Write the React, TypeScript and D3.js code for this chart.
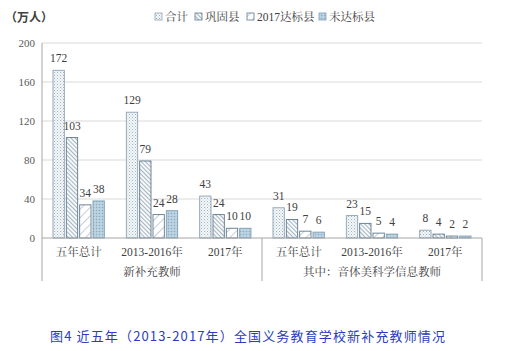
import React from 'react';
import * as d3 from 'd3';

const categories = ['五年总计', '2013-2016年', '2017年', '五年总计', '2013-2016年', '2017年'];
const groupLabels = ['新补充教师', '其中：音体美科学信息教师'];
const seriesNames = ['合计', '巩固县', '2017达标县', '未达标县'];
const totalVals = [172, 129, 43, 31, 23, 8];
const consolidatedVals = [103, 79, 24, 19, 15, 4];
const met2017Vals = [34, 24, 10, 7, 5, 2];
const unmetVals = [38, 28, 10, 6, 4, 2];
const yTicks = [0, 40, 80, 120, 160, 200];
const caption = '图4 近五年（2013-2017年）全国义务教育学校新补充教师情况';

const seriesValues = [totalVals, consolidatedVals, met2017Vals, unmetVals];
const patternIds = ['p-total', 'p-cons', 'p-met', 'p-unmet'];
const strokes = ['#8da3b4', '#60798d', '#60798d', '#7f9fb6'];

const W = 505, H = 351;
const left = 42, right = 482, top = 43, bottom = 238;
const serif = '"Liberation Serif", "Noto Serif CJK SC", "Noto Sans CJK SC", serif';
const sans = '"Noto Sans CJK SC", "Liberation Serif", sans-serif';

export default function App() {
  const x = d3.scaleBand<number>().domain(d3.range(categories.length)).range([left, right]).padding(0);
  const bw = x.bandwidth();
  const xi = d3.scaleBand<number>().domain(d3.range(seriesNames.length)).range([bw * 0.15, bw * 0.85]).paddingInner(0.15);
  const y = d3.scaleLinear().domain([0, 200]).range([bottom, top]);

  const legendX = [155, 195, 247, 319];

  return (
    <svg width={W} height={H} style={{ position: 'absolute', left: 0, top: 0, background: '#fff' }}>
      <defs>
        <pattern id="p-total" width="3" height="3" patternUnits="userSpaceOnUse">
          <rect width="3" height="3" fill="#f4f7f9" />
          <rect x="0" y="0" width="1" height="1" fill="#9fb2c1" />
          <rect x="1.5" y="1.5" width="1" height="1" fill="#b8c7d2" />
        </pattern>
        <pattern id="p-cons" width="3" height="3" patternUnits="userSpaceOnUse" patternTransform="rotate(-45)">
          <rect width="3" height="3" fill="#f6f8fa" />
          <line x1="0" y1="0" x2="0" y2="3" stroke="#6f889b" strokeWidth="1.2" />
        </pattern>
        <pattern id="p-met" width="6" height="6" patternUnits="userSpaceOnUse" patternTransform="rotate(45)">
          <rect width="6" height="6" fill="#ffffff" />
          <line x1="0" y1="0" x2="0" y2="6" stroke="#7d93a4" strokeWidth="0.9" />
        </pattern>
        <pattern id="p-unmet" width="3" height="3" patternUnits="userSpaceOnUse">
          <rect width="3" height="3" fill="#b3cddd" />
          <rect x="0" y="0" width="1" height="1" fill="#86a7bd" />
          <rect x="1.5" y="1.5" width="1" height="1" fill="#d6e5ee" />
        </pattern>
      </defs>

      {/* y label */}
      <text x={5} y={22} fontFamily={sans} fontSize={12} fontWeight="bold" fill="#404040">（万人）</text>

      {/* legend */}
      {seriesNames.map((s, i) => (
        <g key={s}>
          <rect x={legendX[i]} y={13} width={7} height={7} fill={`url(#${patternIds[i]})`} stroke={strokes[i]} strokeWidth={0.8} />
          <text x={legendX[i] + 10} y={21} fontFamily={serif} fontSize={11.5} fill="#404040">{s}</text>
        </g>
      ))}

      {/* gridlines */}
      {yTicks.filter(t => t > 0).map(t => (
        <line key={t} x1={left} x2={right} y1={y(t)} y2={y(t)} stroke="#d9d9d9" strokeWidth={1} />
      ))}
      {/* y tick labels */}
      {yTicks.map(t => (
        <text key={t} x={35} y={y(t) + 4} textAnchor="end" fontFamily={serif} fontSize={11} fill="#595959">{t}</text>
      ))}

      {/* bars */}
      {seriesValues.map((vals, si) => (
        <g key={si}>
          {vals.map((v, ci) => {
            const bx = (x(ci) as number) + (xi(si) as number);
            return (
              <g key={ci}>
                <rect x={bx} y={y(v)} width={xi.bandwidth()} height={bottom - y(v)}
                  fill={`url(#${patternIds[si]})`} stroke={strokes[si]} strokeWidth={0.9} />
                <text x={bx + xi.bandwidth() / 2} y={y(v) - 8} textAnchor="middle" fontFamily={serif} fontSize={11.5} fill="#404040">{v}</text>
              </g>
            );
          })}
        </g>
      ))}

      {/* axes */}
      <line x1={left} x2={right} y1={bottom} y2={bottom} stroke="#a6a6a6" strokeWidth={1} />
      <line x1={left} x2={left} y1={top} y2={281} stroke="#a6a6a6" strokeWidth={1} />
      <line x1={(x(3) as number)} x2={(x(3) as number)} y1={bottom} y2={281} stroke="#a6a6a6" strokeWidth={1} />
      <line x1={right} x2={right} y1={bottom} y2={281} stroke="#a6a6a6" strokeWidth={1} />

      {/* category labels */}
      {categories.map((c, i) => (
        <text key={i} x={(x(i) as number) + bw / 2} y={256} textAnchor="middle" fontFamily={serif} fontSize={11.5} fill="#404040">{c}</text>
      ))}
      {groupLabels.map((g, gi) => (
        <text key={g} x={(x(gi * 3) as number) + bw * 1.5} y={276} textAnchor="middle" fontFamily={serif} fontSize={11.5} fill="#404040">{g}</text>
      ))}

      {/* caption */}
      <text x={50} y={341} fontFamily={sans} fontSize={13} fill="#2b3cc0" textLength={395} lengthAdjust="spacing">{caption}</text>
    </svg>
  );
}
